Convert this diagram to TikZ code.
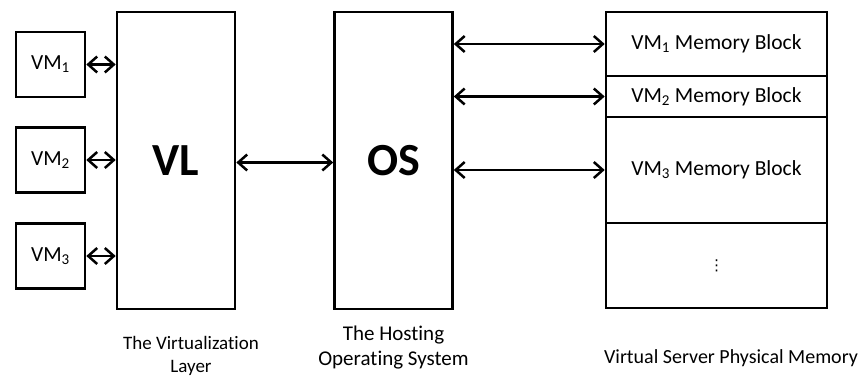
\documentclass[tikz,border=0pt]{standalone}
\usepackage{fontspec}
\setmainfont{Carlito}[Ligatures=NoCommon]
\newfontfamily\symfont{DejaVu Sans}
\usetikzlibrary{arrows.meta}
\begin{document}
\begin{tikzpicture}[x=1pt,y=-1pt,
  box/.style={draw,line width=2.6pt,rectangle,inner sep=0pt,anchor=center},
  vmbox/.style={box,minimum width=69pt,minimum height=65pt,font=\fontsize{21.5}{24}\selectfont},
  bigbox/.style={box,minimum width=118pt,minimum height=297pt,font=\fontsize{46}{48}\selectfont\bfseries},
  memblock/.style={box,minimum width=221pt,font=\fontsize{21.5}{24}\selectfont},
  caption/.style={align=center,inner sep=0pt},
  link/.style={line width=2.5pt,{Straight Barb[length=9pt,width=16pt]}-{Straight Barb[length=9pt,width=16pt]}}
]
\useasboundingbox (0,0) rectangle (860,381);

% virtual machines
\node[vmbox] (vm1) at (50.5,64.5) {VM\textsubscript{1}};
\node[vmbox] (vm2) at (50.5,160) {VM\textsubscript{2}};
\node[vmbox] (vm3) at (50.5,256) {VM\textsubscript{3}};

% virtualization layer and host OS
\node[bigbox] (vl) at (176,160.5) {VL};
\node[bigbox] (os) at (393.5,160.5) {OS};

% physical memory blocks
\node[memblock,minimum height=64pt] (mb1) at (716.5,44) {VM\textsubscript{1} Memory Block};
\node[memblock,minimum height=41pt] (mb2) at (716.5,96.5) {VM\textsubscript{2} Memory Block};
\node[memblock,minimum height=106pt] (mb3) at (716.5,170) {VM\textsubscript{3} Memory Block};
\node[memblock,minimum height=85pt] (mb4) at (716.5,265.5) {\symfont\fontsize{15}{17}\selectfont ⋮};

% connectors
\draw[link] (vm1.east) -- (vm1.east -| vl.west);
\draw[link] (vm2.east) -- (vm2.east -| vl.west);
\draw[link] (vm3.east) -- (vm3.east -| vl.west);
\draw[link] ([yshift=-2pt]vl.east) -- ([yshift=-2pt]os.west);
\draw[link] (mb1.west -| os.east) -- (mb1.west);
\draw[link] (mb2.west -| os.east) -- (mb2.west);
\draw[link] (mb3.west -| os.east) -- (mb3.west);

% captions
\node[caption,font=\fontsize{19}{23}\selectfont] (capvl) at (191,356) {The Virtualization\\Layer};
\node[caption,font=\fontsize{21}{25}\selectfont] (capos) at (393.5,348) {The Hosting\\Operating System};
\node[caption,font=\fontsize{20}{24}\selectfont] (capmem) at (731,358) {Virtual Server Physical Memory};
\end{tikzpicture}
\end{document}
